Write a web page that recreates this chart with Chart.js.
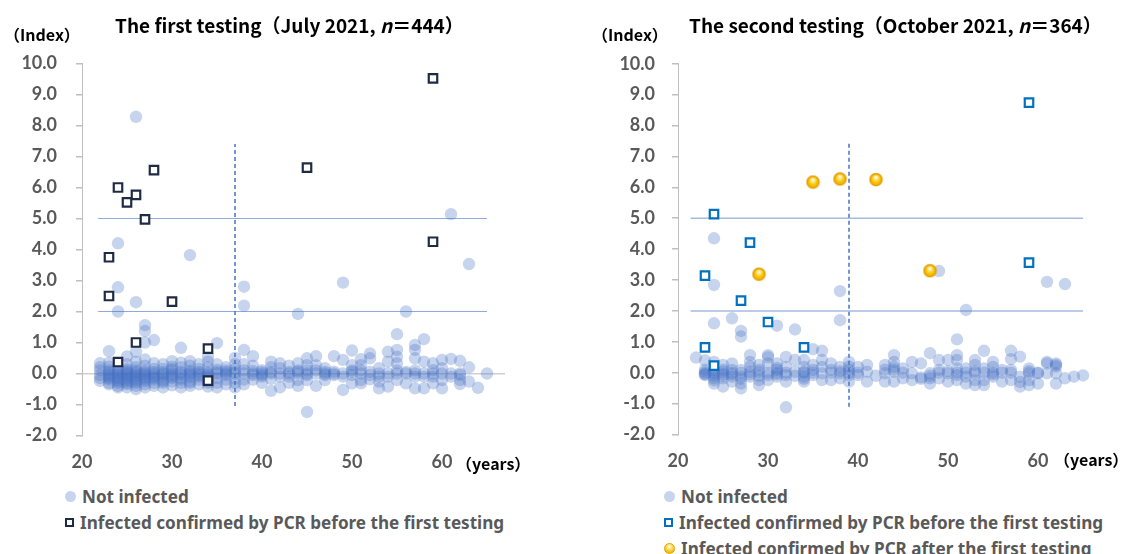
<!DOCTYPE html>
<html>
<head>
<meta charset="utf-8">
<script src="https://cdn.jsdelivr.net/npm/chart.js@4.4.0/dist/chart.umd.min.js"></script>
<style>
  body { margin: 0; background: #fff; }
  #wrap { position: relative; width: 1121px; height: 554px; overflow: hidden; }
  canvas { position: absolute; top: 0; }
  .title { position: absolute; top: 11px; font: bold 19px "Noto Sans CJK JP", "Noto Sans", sans-serif; color: #000; white-space: nowrap; }
  .unit { position: absolute; font: bold 16px "Noto Sans CJK JP", "Noto Sans", sans-serif; color: #000; white-space: nowrap; }
  .legend { position: absolute; font: bold 17.1px "Noto Sans", sans-serif; color: #595959; white-space: nowrap; }
  .legend div { height: 26px; line-height: 26px; }
  .mk { display: inline-block; vertical-align: middle; margin-right: 6px; position: relative; top: -2px; }
  .dot { width: 11px; height: 11px; border-radius: 50%; background: rgba(68,114,196,0.3); }
  .sq { width: 5px; height: 5px; border: 2px solid #1f2a44; background: #fff; }
  .sq2 { border-color: #0070c0; }
  .gold { width: 9px; height: 9px; border-radius: 50%; border: 1.5px solid #e0a000; background: radial-gradient(circle at 50% 30%, #fffbe0 0%, #f7c200 70%, #f0ac00 100%); }
</style>
</head>
<body>
<div id="wrap">
  <canvas id="c1" width="560" height="480" style="left:0"></canvas>
  <canvas id="c2" width="561" height="480" style="left:560px"></canvas>

  <div class="title" style="left:115px">The first testing（July 2021, <i>n</i>＝444）</div>
  <div class="title" style="left:689px">The second testing（October 2021, <i>n</i>＝364）</div>
  <div class="unit" style="left:4px; top:22px">（Index）</div>
  <div class="unit" style="left:592px; top:22px">（Index）</div>
  <div class="unit" style="left:456px; top:451px">（years）</div>
  <div class="unit" style="left:1054px; top:447px">（years）</div>

  <div class="legend" style="left:65px; top:484px">
    <div><span class="mk dot"></span>Not infected</div>
    <div><span class="mk sq"></span>Infected confirmed by PCR before the first testing</div>
  </div>
  <div class="legend" style="left:664px; top:484px">
    <div><span class="mk dot"></span>Not infected</div>
    <div><span class="mk sq sq2"></span>Infected confirmed by PCR before the first testing</div>
    <div><span class="mk gold"></span>Infected confirmed by PCR after the first testing</div>
  </div>
</div>

<script>
// axis ticks
var xTicks = [20, 30, 40, 50, 60];
var yMin = -2, yMax = 10;

// first testing (July 2021) - not infected, values per age
var firstAges = [22,23,24,25,26,27,28,29,30,31,32,33,34,35,36,37,38,39,40,41,42,43,44,45,46,47,48,49,50,51,52,53,54,55,56,57,58,59,60,61,62,63,64,65];
var firstNotInfected = [
  [0.33, 0.2, 0.1, -0.05, -0.15, -0.24],
  [0.72, 0.35, 0.22, 0.1, 0.05, 0.0, -0.05, -0.1, -0.15, -0.2, -0.3, -0.35],
  [4.2, 2.78, 2.0, 0.2, 0.1, 0.05, 0.0, -0.05, -0.1, -0.15, -0.2, -0.25, -0.3, -0.4, -0.45],
  [0.55, 0.3, 0.15, 0.1, 0.05, 0.0, -0.05, -0.1, -0.15, -0.2, -0.25, -0.3, -0.35, -0.45],
  [8.28, 2.3, 0.7, 0.38, 0.2, 0.1, 0.05, 0.0, -0.05, -0.1, -0.15, -0.2, -0.25, -0.3, -0.4, -0.5],
  [1.56, 1.37, 1.0, 0.45, 0.25, 0.1, 0.05, 0.0, -0.05, -0.1, -0.15, -0.2, -0.25, -0.35, -0.45],
  [1.08, 0.33, 0.15, 0.05, 0.0, -0.05, -0.1, -0.15, -0.2, -0.3, -0.4],
  [0.3, 0.15, 0.05, 0.0, -0.05, -0.1, -0.2, -0.25, -0.3, -0.45],
  [0.4, 0.22, 0.15, 0.1, 0.0, -0.05, -0.1, -0.15, -0.25, -0.38],
  [0.83, 0.35, 0.2, 0.05, 0.0, -0.05, -0.15, -0.2, -0.3, -0.45],
  [3.82, 0.4, 0.25, 0.1, 0.05, 0.0, -0.05, -0.12, -0.25, -0.3, -0.4],
  [0.3, 0.15, 0.05, 0.0, -0.05, -0.1, -0.2, -0.35],
  [0.55, 0.38, 0.2, 0.05, 0.0, -0.05, -0.1, -0.15, -0.25, -0.3, -0.42],
  [0.98, 0.3, 0.12, 0.05, 0.0, -0.15, -0.3, -0.45],
  [0.2, 0.1, 0.05, 0.0, -0.05, -0.2, -0.35],
  [0.5, 0.3, 0.15, 0.05, 0.0, -0.15, -0.3, -0.45],
  [2.8, 2.19, 0.76, 0.3, 0.1, 0.0, -0.2, -0.35],
  [0.56, 0.25, 0.08, 0.0, -0.05, -0.2],
  [0.11, 0.05, 0.0, -0.05, -0.1, -0.3],
  [0.38, 0.2, 0.05, 0.0, -0.17, -0.56],
  [0.33, 0.17, 0.0, -0.1, -0.45],
  [0.25, 0.05, 0.0, -0.1, -0.3],
  [1.92, 0.33, 0.1, 0.06, 0.0, -0.21, -0.4],
  [0.49, 0.27, 0.1, 0.0, -0.05, -0.21, -1.24],
  [0.56, 0.27, 0.1, 0.0, -0.4],
  [0.17, 0.05, 0.0, -0.05, -0.21],
  [0.56, 0.06, 0.0, -0.05],
  [2.93, 0.44, 0.0, -0.1, -0.53],
  [0.74, 0.27, 0.1, 0.05, -0.05, -0.32],
  [0.46, 0.27, 0.1, 0.0, -0.21, -0.32],
  [0.65, 0.49, 0.05, -0.05, -0.19],
  [0.17, 0.0, -0.1, -0.26, -0.48],
  [0.7, 0.38, 0.0, -0.1, -0.42],
  [1.27, 0.76, 0.54, 0.33, 0.1, 0.0, -0.21],
  [2.0, 0.05, 0.0, -0.32],
  [0.92, 0.76, 0.49, 0.1, 0.0, -0.1, -0.48],
  [1.11, 0.38, 0.0, -0.1, -0.48],
  [0.33, 0.11, 0.0, -0.1, -0.32],
  [0.44, 0.17, 0.0, -0.21, -0.48],
  [5.14, 0.47, 0.0, -0.1],
  [0.41, 0.0, -0.05, -0.21, -0.34],
  [3.53, 0.2, -0.26],
  [-0.46],
  [0.0]
];
// first testing - infected before the first testing
var firstBeforeAge = [23, 23, 24, 24, 25, 26, 26, 27, 28, 30, 34, 34, 45, 59, 59];
var firstBeforeIndex = [3.75, 2.5, 6.0, 0.37, 5.52, 5.76, 1.0, 4.97, 6.56, 2.32, 0.8, -0.23, 6.64, 9.52, 4.25];

// second testing (October 2021) - not infected, values per age
var secondAges = firstAges;
var secondNotInfected = [
  [0.49],
  [0.4, 0.1, 0.03, -0.02, -0.08, -0.05],
  [4.35, 2.84, 1.6, 0.35, 0.1, 0.03, -0.02, -0.1, -0.18, -0.25, -0.35],
  [0.25, 0.1, 0.03, -0.05, -0.1, -0.18, -0.45],
  [1.76, 0.3, 0.09, 0.0, -0.05, -0.13, -0.29],
  [1.35, 1.17, 0.09, 0.0, -0.13, -0.2, -0.35, -0.51],
  [0.57, 0.35, 0.2, 0.03, -0.05, -0.13],
  [0.25, 0.1, 0.03, -0.1, -0.24, -0.4],
  [0.57, 0.5, 0.3, 0.0, -0.08, -0.24],
  [1.52, 0.3, 0.15, 0.09, 0.0, -0.05, -0.13],
  [-1.12, 0.51, 0.19, 0.0, -0.08, -0.29],
  [1.4, 0.41, 0.03, -0.1],
  [0.41, 0.19, 0.03, 0.0, -0.13, -0.2, -0.29],
  [0.76, 0.25, 0.09, 0.0, -0.08],
  [0.71, 0.41, 0.19, -0.02, -0.24],
  [0.3, 0.09, 0.0, -0.24],
  [2.64, 1.7, 0.19, 0.05, -0.02, -0.18],
  [0.35, 0.2, 0.09, 0.0, -0.08, -0.29],
  [0.19, 0.0, -0.08],
  [0.25, 0.03, -0.29],
  [-0.1],
  [0.25, 0.1, -0.02, -0.29],
  [0.57, 0.35, 0.19, 0.1, 0.03, -0.29],
  [0.14, 0.0, -0.18],
  [0.35, -0.02, -0.24],
  [0.3, -0.15, -0.2],
  [0.63, -0.02, -0.1, -0.18, -0.35],
  [3.29, 0.41, 0.09, 0.0, -0.18],
  [0.41, 0.05, -0.02, -0.29],
  [1.08, 0.57, 0.41, 0.14, 0.0, -0.08, -0.24],
  [2.03, 0.14, 0.0, -0.13, -0.35],
  [0.41, 0.25, 0.05, -0.02, -0.24, -0.4],
  [0.71, 0.14, 0.0, -0.24, -0.4],
  [0.35, 0.19, 0.0, -0.05, -0.13],
  [0.09, 0.0, -0.29],
  [0.71, 0.44, 0.09, 0.0, -0.24],
  [0.52, -0.13, -0.3, -0.45],
  [0.14, 0.05, -0.02, -0.24, -0.4],
  [0.0, -0.02, -0.35],
  [2.94, 0.35, 0.3, -0.02],
  [0.3, 0.25, 0.2, -0.02, -0.35],
  [2.87, -0.18],
  [-0.13],
  [-0.09]
];
var secondBeforeAge = [23, 23, 24, 24, 27, 28, 30, 34, 59, 59];
var secondBeforeIndex = [3.14, 0.82, 5.13, 0.23, 2.33, 4.21, 1.64, 0.82, 8.74, 3.56];
var secondAfterAge = [29, 35, 38, 42, 48];
var secondAfterIndex = [3.19, 6.17, 6.27, 6.25, 3.3];

// reference lines: index levels, their age range, dashed age line [age, from, to]
var firstHLines = [5, 2], firstHRange = [21.8, 65], firstVLine = [37, -1.05, 7.4];
var secondHLines = [5, 2], secondHRange = [21.4, 65], secondVLine = [39, -1.1, 7.45];

function toPoints(ages, rows) {
  var pts = [];
  for (var i = 0; i < ages.length; i++) {
    for (var j = 0; j < rows[i].length; j++) pts.push({x: ages[i], y: rows[i][j]});
  }
  return pts;
}
function zip(a, b) {
  return a.map(function(v, i) { return {x: v, y: b[i]}; });
}

// gold marker image
var gold = document.createElement('canvas');
gold.width = 15; gold.height = 15;
(function() {
  var g = gold.getContext('2d');
  var grad = g.createRadialGradient(7.5, 5, 0.5, 7.5, 7.5, 7);
  grad.addColorStop(0, '#fffbe0');
  grad.addColorStop(0.55, '#f8c400');
  grad.addColorStop(1, '#eea800');
  g.beginPath();
  g.arc(7.5, 7.5, 6, 0, Math.PI * 2);
  g.fillStyle = grad;
  g.fill();
  g.lineWidth = 1.5;
  g.strokeStyle = '#e39d00';
  g.stroke();
})();

function lineSets(h, range, v, hColor, hWidth) {
  var sets = h.map(function(val) {
    return { type: 'line', data: [{x: range[0], y: val}, {x: range[1], y: val}],
      borderColor: hColor, borderWidth: hWidth, pointRadius: 0, order: 10 };
  });
  sets.push({ type: 'line', data: [{x: v[0], y: v[1]}, {x: v[0], y: v[2]}],
    borderColor: '#4472c4', borderWidth: 1.5, borderDash: [4, 3], pointRadius: 0, order: 9 });
  return sets;
}

var tickFont = { family: 'Lato', size: 18, weight: 'bold' };

function makeChart(id, datasets, pad, yWidth, labelPad, zeroLine) {
  return new Chart(document.getElementById(id), {
    type: 'scatter',
    data: { datasets: datasets },
    options: {
      responsive: false,
      animation: false,
      devicePixelRatio: 1,
      layout: { padding: pad },
      plugins: { legend: { display: false }, tooltip: { enabled: false } },
      scales: {
        x: {
          type: 'linear', min: 20, max: 67,
          afterBuildTicks: function(s) { s.ticks = xTicks.map(function(v) { return {value: v}; }); },
          afterFit: function(s) { s.height = 40; },
          grid: { display: false, drawTicks: false },
          border: { display: false },
          ticks: { padding: 16, color: '#595959', font: tickFont }
        },
        y: {
          min: yMin, max: yMax,
          afterFit: function(s) { s.width = yWidth; },
          grid: {
            drawOnChartArea: true,
            color: function(c) { return (zeroLine && c.tick && c.tick.value === 0) ? '#d0d0d0' : 'rgba(0,0,0,0)'; },
            lineWidth: 1.5,
            tickColor: '#bfbfbf', tickLength: 6
          },
          border: { color: '#bfbfbf', width: 1 },
          ticks: { stepSize: 1, padding: labelPad, color: '#595959', font: tickFont,
            callback: function(v) { return v.toFixed(1); } }
        }
      }
    }
  });
}

var dotStyle = { pointRadius: 6.2, pointHoverRadius: 6.2, pointBorderWidth: 0,
  backgroundColor: 'rgba(68,114,196,0.3)', borderColor: 'rgba(0,0,0,0)' };

var set1 = [
  { label: 'Infected confirmed by PCR before the first testing', data: zip(firstBeforeAge, firstBeforeIndex),
    pointStyle: 'rect', pointRadius: 6, pointBorderWidth: 2.2, backgroundColor: '#fff', borderColor: '#1f2a44', order: 0 },
  Object.assign({ label: 'Not infected', data: toPoints(firstAges, firstNotInfected), order: 1 }, dotStyle)
].concat(lineSets(firstHLines, firstHRange, firstVLine, '#8faadc', 1.2));

var set2 = [
  { label: 'Infected confirmed by PCR after the first testing', data: zip(secondAfterAge, secondAfterIndex),
    pointStyle: gold, order: 0 },
  { label: 'Infected confirmed by PCR before the first testing', data: zip(secondBeforeAge, secondBeforeIndex),
    pointStyle: 'rect', pointRadius: 6, pointBorderWidth: 2.2, backgroundColor: '#fff', borderColor: '#0070c0', order: 0 },
  Object.assign({ label: 'Not infected', data: toPoints(secondAges, secondNotInfected), order: 1 }, dotStyle)
].concat(lineSets(secondHLines, secondHRange, secondVLine, '#a5bbe3', 1.5));

makeChart('c1', set1, { top: 63.5, left: 0, right: 55, bottom: 4.5 }, 82, 19, true);
makeChart('c2', set2, { top: 63.7, left: 0, right: 20, bottom: 5.5 }, 118, 17, false);
</script>
</body>
</html>
